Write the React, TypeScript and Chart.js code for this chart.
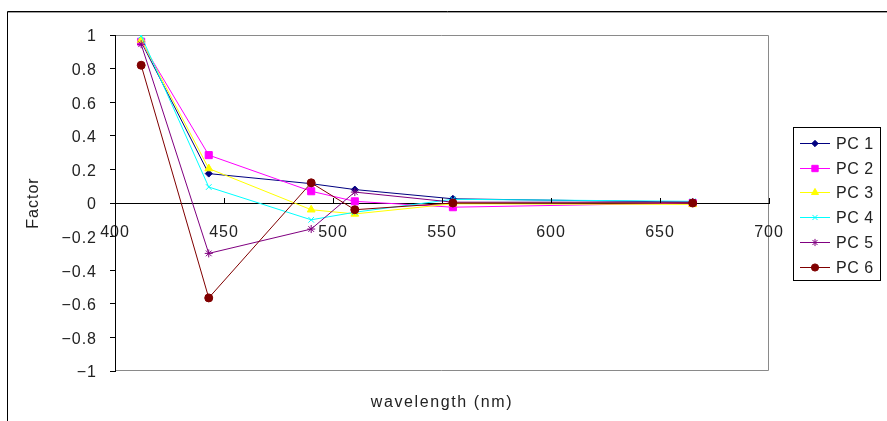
import React, { useEffect, useRef } from 'react';
import { Chart, registerables } from 'chart.js';
import { drawPoint } from 'chart.js/helpers';

Chart.register(...registerables);

const wavelengths = [412, 443, 490, 510, 555, 665];
const seriesNames = ['PC 1', 'PC 2', 'PC 3', 'PC 4', 'PC 5', 'PC 6'];
const pc1 = [0.96, 0.175, 0.115, 0.08, 0.025, 0.005];
const pc2 = [0.96, 0.285, 0.07, 0.01, -0.025, 0.0];
const pc3 = [0.97, 0.205, -0.04, -0.065, -0.005, -0.008];
const pc4 = [0.995, 0.095, -0.1, -0.055, 0.022, 0.01];
const pc5 = [0.945, -0.3, -0.155, 0.065, 0.005, 0.005];
const pc6 = [0.82, -0.565, 0.12, -0.04, 0.0, 0.0];
const seriesValues = [pc1, pc2, pc3, pc4, pc5, pc6];
const xTickValues = [400, 450, 500, 550, 600, 650, 700];
const xTitle = 'wavelength (nm)';
const yTitle = 'Factor';

const seriesColors = ['#000080', '#FF00FF', '#FFFF00', '#00FFFF', '#800080', '#800000'];
const pointStyles = ['rectRot', 'rect', 'triangle', 'crossRot', 'star', 'circle'];
const pointRadii = [3.5, 5, 4.5, 4, 4, 4];

const FONT = '"Liberation Sans", Arial, sans-serif';

function fmtY(v: number): string {
  const r = Math.round(v * 10) / 10;
  if (r === 0) return '0';
  return (r < 0 ? '\u2212' : '') + String(Math.abs(r));
}

const decorPlugin = {
  id: 'decor',
  beforeDraw(chart: any) {
    const ctx = chart.ctx;
    const { left, right, top, bottom } = chart.chartArea;
    (ctx as any).letterSpacing = '1px';
    ctx.save();
    ctx.fillStyle = '#fff';
    ctx.fillRect(0, 0, chart.width, chart.height);
    // outer frame
    ctx.strokeStyle = '#000';
    ctx.lineWidth = 1;
    ctx.beginPath();
    ctx.moveTo(7.5, chart.height + 2);
    ctx.lineTo(7.5, 11.5);
    ctx.lineTo(chart.width + 2, 11.5);
    ctx.stroke();
    ctx.strokeStyle = '#a0a0a0';
    ctx.beginPath();
    ctx.moveTo(8, 12.5);
    ctx.lineTo(chart.width + 2, 12.5);
    ctx.stroke();
    // plot border
    ctx.strokeStyle = '#8a8a8a';
    ctx.beginPath();
    ctx.moveTo(left, top + 0.5);
    ctx.lineTo(right - 0.5, top + 0.5);
    ctx.lineTo(right - 0.5, bottom - 0.5);
    ctx.lineTo(left, bottom - 0.5);
    ctx.stroke();
    ctx.restore();
  },
  afterDraw(chart: any) {
    const ctx = chart.ctx;
    const xs = chart.scales.x;
    const ys = chart.scales.y;
    const y0 = Math.round(ys.getPixelForValue(0));
    ctx.save();
    // x tick marks (upward)
    ctx.strokeStyle = '#000';
    ctx.lineWidth = 1;
    ctx.beginPath();
    xTickValues.forEach((v) => {
      const px = Math.round(xs.getPixelForValue(v)) + 0.5;
      ctx.moveTo(px, y0 - 5);
      ctx.lineTo(px, y0);
    });
    ctx.stroke();
    // x title
    ctx.fillStyle = '#222';
    ctx.font = '16px ' + FONT;
    (ctx as any).letterSpacing = '1.6px';
    ctx.textAlign = 'center';
    ctx.textBaseline = 'middle';
    const { left, right } = chart.chartArea;
    ctx.fillText(xTitle, (left + right) / 2, 403);
    (ctx as any).letterSpacing = '0.5px';
    // legend
    const bx = 793, by = 127, bw = 87, bh = 153;
    ctx.fillStyle = '#fff';
    ctx.fillRect(bx, by, bw, bh);
    ctx.strokeStyle = '#000';
    ctx.strokeRect(bx + 0.5, by + 0.5, bw, bh);
    ctx.font = '16px ' + FONT;
    ctx.textAlign = 'left';
    ctx.textBaseline = 'middle';
    seriesNames.forEach((name, i) => {
      const cy = Math.round(143 + i * 24.7) + 0.5;
      ctx.strokeStyle = seriesColors[i];
      ctx.lineWidth = 1;
      ctx.beginPath();
      ctx.moveTo(800, cy);
      ctx.lineTo(830, cy);
      ctx.stroke();
      ctx.fillStyle = seriesColors[i];
      drawPoint(ctx, { pointStyle: pointStyles[i], radius: pointRadii[i] * 0.9, borderWidth: 1, rotation: 0 } as any, 815, cy);
      ctx.fillStyle = '#222';
      ctx.fillText(name, 836, cy + 1);
    });
    ctx.restore();
  },
};

export default function App() {
  const ref = useRef<HTMLCanvasElement>(null);
  useEffect(() => {
    const datasets = seriesNames.map((name, i) => ({
      label: name,
      data: wavelengths.map((w, j) => ({ x: w, y: seriesValues[i][j] })),
      borderColor: seriesColors[i],
      backgroundColor: seriesColors[i],
      pointBackgroundColor: seriesColors[i],
      pointBorderColor: seriesColors[i],
      pointStyle: pointStyles[i],
      pointRadius: pointRadii[i],
      pointBorderWidth: 1,
      borderWidth: 1,
      tension: 0,
      fill: false,
      order: seriesNames.length - 1 - i,
    }));
    const chart = new Chart(ref.current!, {
      type: 'line',
      data: { datasets },
      plugins: [decorPlugin],
      options: {
        animation: false,
        responsive: false,
        devicePixelRatio: 1,
        layout: { padding: { left: 0, top: 35, right: 118, bottom: 50 } },
        plugins: { legend: { display: false }, tooltip: { enabled: false } },
        scales: {
          x: {
            type: 'linear',
            position: { y: 0 } as any,
            min: 400,
            max: 700,
            afterBuildTicks: (scale: any) => {
              scale.ticks = xTickValues.map((v) => ({ value: v }));
            },
            ticks: {
              font: { family: FONT, size: 16 },
              color: '#222',
              padding: 20,
              maxRotation: 0,
              autoSkip: false,
            },
            grid: { display: false, drawTicks: false },
            border: { display: true, color: '#000', width: 1 },
          },
          y: {
            type: 'linear',
            min: -1,
            max: 1,
            afterFit: (scale: any) => {
              scale.width = 115;
            },
            ticks: {
              stepSize: 0.2,
              font: { family: FONT, size: 16, lineHeight: '4px' },
              color: '#222',
              padding: 13,
              callback: (v: any) => ['', fmtY(Number(v))],
            },
            grid: { drawOnChartArea: false, drawTicks: true, tickLength: 5, color: '#000' },
            border: { display: true, color: '#000', width: 1 },
            title: {
              display: true,
              text: yTitle,
              font: { family: FONT, size: 16 },
              color: '#222',
              padding: { top: 24, bottom: 0 },
            },
          },
        },
      },
    } as any);
    return () => chart.destroy();
  }, []);
  return (
    <div style={{ position: 'absolute', left: 0, top: 0, width: 887, height: 421, background: '#fff' }}>
      <canvas ref={ref} width={887} height={421} style={{ display: 'block', width: 887, height: 421 }} />
    </div>
  );
}
